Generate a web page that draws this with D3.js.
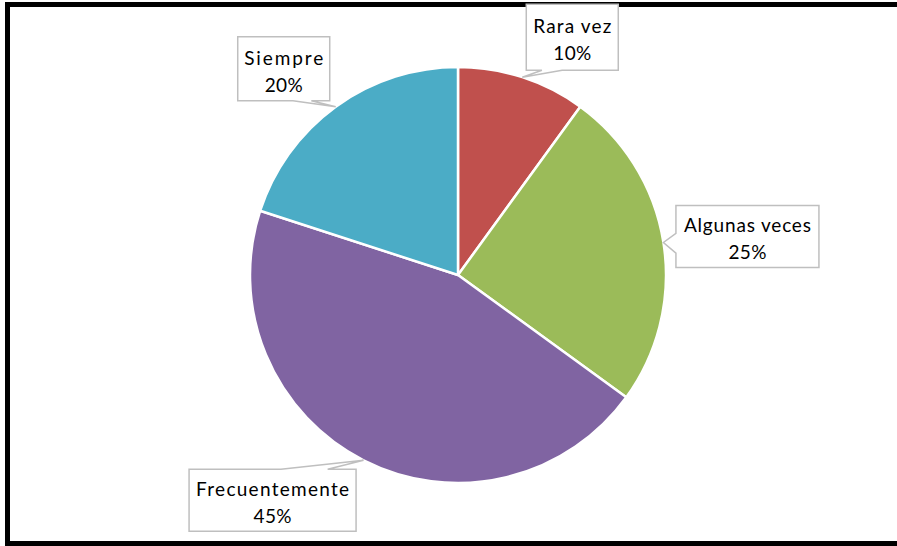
<!DOCTYPE html>
<html>
<head>
<meta charset="utf-8">
<script src="https://cdn.jsdelivr.net/npm/d3@7"></script>
<style>
  body { margin: 0; background: #fff; }
  svg { display: block; }
</style>
</head>
<body>
<div id="chart"></div>
<script>
const FRAME_WIDTH = 897;
const FRAME_HEIGHT = 546;

// data
const categories = ["Rara vez", "Algunas veces", "Frecuentemente", "Siempre"];
const values = [10, 25, 45, 20];
const pctLabels = ["10%", "25%", "45%", "20%"];
const colors = ["#C0504D", "#9BBB59", "#8064A2", "#4BACC6"];

// callout layout: box centre relative to the pointer tip, box size,
// which edge the pointer leaves from and where along it (0..1)
const callouts = [
  {dx: 50, dy: -40, w: 92, h: 66, side: "bottom", b0: 0.17, b1: 0.39, w1: 78, w2: 38},
  {dx: 84, dy: -6, w: 143, h: 62, side: "left", b0: 0.45, b1: 0.77, w1: 127, w2: 38},
  {dx: -91, dy: 40, w: 167, h: 62, side: "top", b0: 0.55, b1: 0.83, w1: 153, w2: 38},
  {dx: -52, dy: -38, w: 92, h: 64, side: "bottom", b0: 0.6, b1: 0.8, w1: 79, w2: 38}
];

const CX = 458, CY = 275, R = 208;

const svg = d3.select("#chart")
  .append("svg")
    .attr("width", FRAME_WIDTH)
    .attr("height", FRAME_HEIGHT);

// outer frame (right side runs off the picture)
svg.append("rect")
  .attr("x", 7.5)
  .attr("y", 4.5)
  .attr("width", FRAME_WIDTH + 10)
  .attr("height", 539)
  .attr("fill", "white")
  .attr("stroke", "black")
  .attr("stroke-width", 5);

const pie = d3.pie().sort(null).value(d => d);
const arcs = pie(values);

const arc = d3.arc().innerRadius(0).outerRadius(R);
const edgeArc = d3.arc().innerRadius(R).outerRadius(R);

const g = svg.append("g")
  .attr("transform", "translate(" + CX + "," + CY + ")");

g.selectAll("path.slice")
  .data(arcs)
  .enter()
  .append("path")
    .attr("class", "slice")
    .attr("d", arc)
    .attr("fill", (d, i) => colors[i])
    .attr("stroke", "white")
    .attr("stroke-width", 2.5)
    .attr("stroke-linejoin", "round");

// callout boxes with pointer
function calloutPath(tip, c) {
  const x0 = tip[0] + c.dx - c.w / 2, x1 = x0 + c.w;
  const y0 = tip[1] + c.dy - c.h / 2, y1 = y0 + c.h;
  const p = d3.path();
  p.moveTo(x0, y0);
  if (c.side === "top") {
    p.lineTo(x0 + c.w * c.b0, y0);
    p.lineTo(tip[0], tip[1]);
    p.lineTo(x0 + c.w * c.b1, y0);
  }
  p.lineTo(x1, y0);
  p.lineTo(x1, y1);
  if (c.side === "bottom") {
    p.lineTo(x0 + c.w * c.b1, y1);
    p.lineTo(tip[0], tip[1]);
    p.lineTo(x0 + c.w * c.b0, y1);
  }
  p.lineTo(x0, y1);
  if (c.side === "left") {
    p.lineTo(x0, y0 + c.h * c.b1);
    p.lineTo(tip[0], tip[1]);
    p.lineTo(x0, y0 + c.h * c.b0);
  }
  p.closePath();
  return p.toString();
}

const labels = svg.append("g").selectAll("g")
  .data(arcs)
  .enter()
  .append("g")
    .each(function (d, i) {
      const c = callouts[i];
      const t = edgeArc.centroid(d);
      const tip = [t[0] + CX, t[1] + CY];
      const sel = d3.select(this);
      sel.append("path")
        .attr("d", calloutPath(tip, c))
        .attr("fill", "white")
        .attr("stroke", "#BFBFBF")
        .attr("stroke-width", 1.5);
      const mx = tip[0] + c.dx, my = tip[1] + c.dy;
      sel.append("text")
        .attr("x", mx)
        .attr("y", my - 4)
        .attr("text-anchor", "middle")
        .attr("textLength", c.w1)
        .attr("lengthAdjust", "spacing")
        .style("font-family", "Lato, 'Noto Sans', sans-serif")
        .style("font-size", "19px")
        .attr("fill", "#000")
        .text(categories[i]);
      sel.append("text")
        .attr("x", mx)
        .attr("y", my + 23)
        .attr("text-anchor", "middle")
        .attr("textLength", c.w2)
        .attr("lengthAdjust", "spacing")
        .style("font-family", "Lato, 'Noto Sans', sans-serif")
        .style("font-size", "19px")
        .attr("fill", "#000")
        .text(pctLabels[i]);
    });
</script>
</body>
</html>
